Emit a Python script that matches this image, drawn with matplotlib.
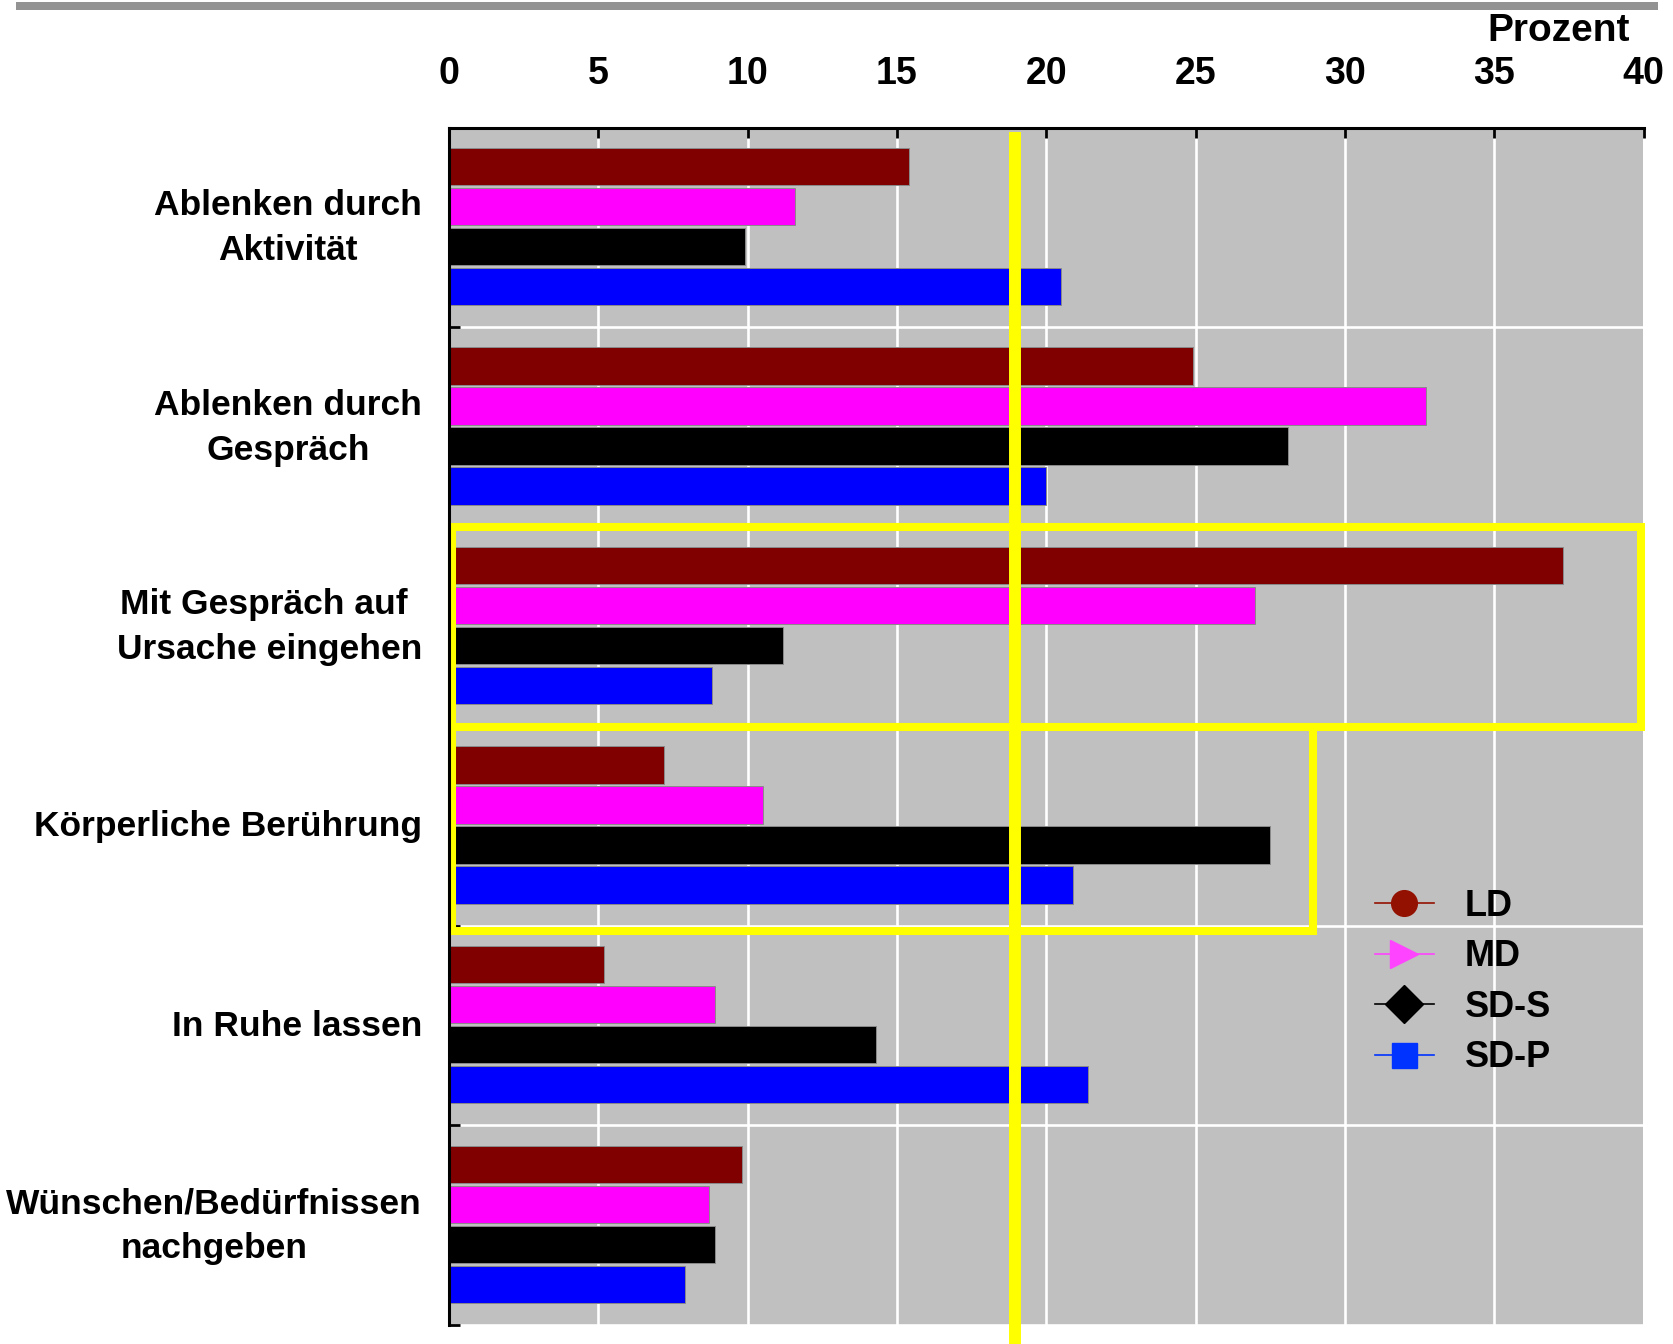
import matplotlib
matplotlib.use("Agg")
import matplotlib.pyplot as plt
from matplotlib import font_manager
from matplotlib.lines import Line2D
from matplotlib.patches import Rectangle
from matplotlib.transforms import ScaledTranslation
import numpy as np

# ---- data -------------------------------------------------------------
categories = [
    "Ablenken durch\nAktivität",
    "Ablenken durch\nGespräch",
    "Mit Gespräch auf \nUrsache eingehen",
    "Körperliche Berührung",
    "In Ruhe lassen",
    "Wünschen/Bedürfnissen\nnachgeben",
]
series_names = ["LD", "MD", "SD-S", "SD-P"]
ld = [15.4, 24.9, 37.3, 7.2, 5.2, 9.8]
md = [11.6, 32.7, 27.0, 10.5, 8.9, 8.7]
sd_s = [9.9, 28.1, 11.2, 27.5, 14.3, 8.9]
sd_p = [20.5, 20.0, 8.8, 20.9, 21.4, 7.9]
x_ticks = [0, 5, 10, 15, 20, 25, 30, 35, 40]
x_label = "Prozent"
reference_value = 18.95          # yellow vertical marker line
highlight_box_1_xmax = 39.9      # frame around "Mit Gespräch auf Ursache eingehen"
highlight_box_2_xmax = 28.93     # frame around "Körperliche Berührung"

bar_colors = ["#800000", "#FF00FF", "#000000", "#0000FF"]
legend_colors = ["#931100", "#FF44FF", "#000000", "#0033FF"]
legend_markers = ["o", ">", "D", "s"]
legend_msizes = [18.5, 20, 19, 18]

# ---- fonts ------------------------------------------------------------
available = {f.name for f in font_manager.fontManager.ttflist}


def pick(*names):
    for n in names:
        if n in available:
            return n
    return "DejaVu Sans"


main_font = pick("Liberation Sans", "Arial", "DejaVu Sans")
narrow_font = pick("Liberation Sans Narrow", "Arial Narrow", main_font)
plt.rcParams["font.family"] = [main_font, "DejaVu Sans"]

# ---- figure -----------------------------------------------------------
W, H = 1674, 1344
fig = plt.figure(figsize=(W / 100, H / 100), dpi=100)
ax = fig.add_axes([449 / W, 1 - 1325 / H, (1643.5 - 449) / W, (1325 - 127.5) / H])
ax.set_facecolor("#C0C0C0")

n_cat = len(categories)
y = np.arange(n_cat)
bar_h = 0.187
offsets = [(k - 1.5) * 0.2005 - 0.005 for k in range(4)]
for vals, col, off in zip([ld, md, sd_s, sd_p], bar_colors, offsets):
    ax.barh(y + off, vals, height=bar_h, color=col, edgecolor="#8a8a8a",
            linewidth=0.7, zorder=2)

ax.set_xlim(0, 40)
ax.set_ylim(n_cat - 0.5, -0.5)

# x axis on top
ax.xaxis.tick_top()
ax.set_xticks(x_ticks)
ax.set_xticklabels([str(t) for t in x_ticks], fontfamily=narrow_font,
                   fontweight="bold", fontsize=27)
ax.tick_params(axis="x", which="major", direction="in", length=7, width=2,
               color="black", pad=25.5, top=True, bottom=False)

# y axis: labels at category centres, ticks at boundaries
ax.set_yticks(y)
ax.set_yticklabels(categories, fontsize=25.5, fontweight="bold",
                   multialignment="center", linespacing=1.45)
ax.set_yticks(np.arange(-0.5, n_cat, 1.0), minor=True)
ax.tick_params(axis="y", which="major", length=0, pad=19.5)
ax.tick_params(axis="y", which="minor", direction="in", length=8, width=2,
               color="black")
# nudge the category labels slightly upwards
for lab in ax.get_yticklabels():
    lift = 0.085 if "\n" in lab.get_text() else 0.03
    lab.set_transform(lab.get_transform()
                      + ScaledTranslation(0, lift, fig.dpi_scale_trans))

# white grid
ax.set_axisbelow(True)
ax.grid(axis="x", which="major", color="white", linewidth=1.9)
ax.grid(axis="y", which="minor", color="white", linewidth=1.9)
ax.grid(axis="y", which="major", visible=False)

for side in ["right", "bottom"]:
    ax.spines[side].set_visible(False)
for side in ["top", "left"]:
    ax.spines[side].set_color("black")
    ax.spines[side].set_linewidth(2.2)
    ax.spines[side].set_zorder(6)

# yellow reference line and highlight frames
yellow = "#FFFF00"
ax.plot([reference_value, reference_value], [-0.476, 5.8], color=yellow,
        linewidth=8.6, solid_capstyle="butt", clip_on=False, zorder=4)
ax.add_patch(Rectangle((0.1, 1.5025), highlight_box_1_xmax - 0.1, 1.0015,
                       fill=False, edgecolor=yellow, linewidth=5.8,
                       joinstyle="miter", zorder=4, clip_on=False))
ax.add_patch(Rectangle((0.1, 2.504), highlight_box_2_xmax - 0.1, 1.02,
                       fill=False, edgecolor=yellow, linewidth=5.8,
                       joinstyle="miter", zorder=4, clip_on=False))

# legend
handles = [
    Line2D([0], [0], color=c, marker=m, markersize=s, markerfacecolor=c,
           markeredgecolor=c, linewidth=1.2)
    for c, m, s in zip(legend_colors, legend_markers, legend_msizes)
]
leg = ax.legend(handles, series_names, loc="center left",
                bbox_to_anchor=(1357 / W, 1 - 982 / H),
                bbox_transform=fig.transFigure, frameon=False, borderpad=0,
                handlelength=1.63, handletextpad=0.85, labelspacing=0.43,
                prop={"family": main_font, "weight": "bold", "size": 26})
leg.set_zorder(7)

# header: grey rule and axis title
fig.add_artist(Rectangle((16 / W, 1 - 9.5 / H), (1658 - 16) / W, 7.5 / H,
                         transform=fig.transFigure, facecolor="#939393",
                         edgecolor="none"))
fig.text(1630 / W, 1 - 41 / H, x_label, ha="right", va="baseline",
         fontsize=28, fontweight="bold", family=main_font)

fig.savefig("out.png", dpi=100)
